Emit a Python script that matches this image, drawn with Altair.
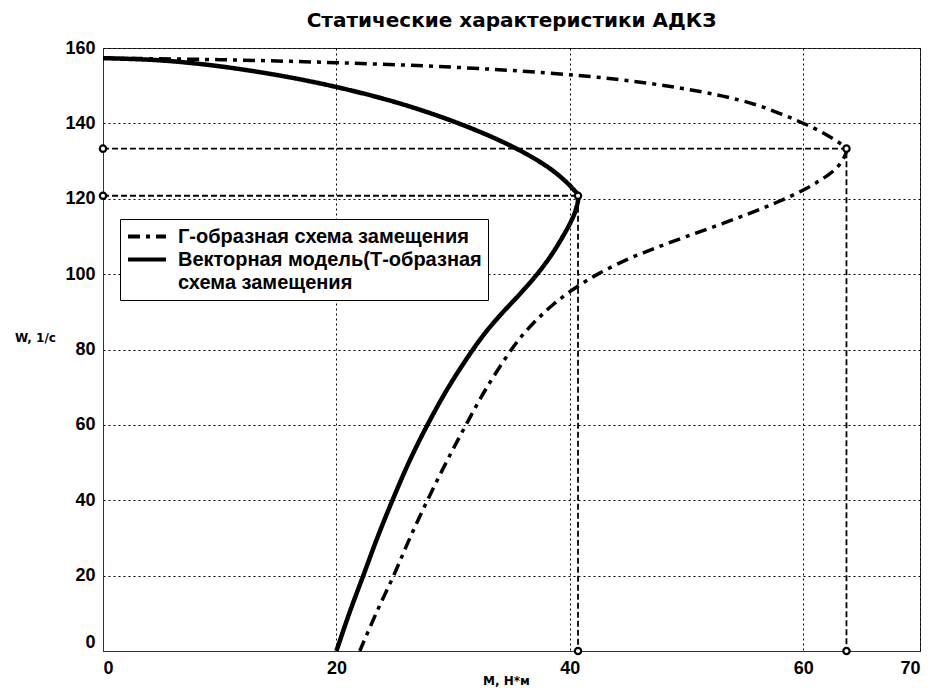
import altair as alt
import pandas as pd

FONT = "Liberation Sans"
WIDE = "DejaVu Sans"
TITLE = "Статические характеристики АДКЗ"
SERIES = ["Г-образная схема замещения", "Векторная модель(Т-образная", "схема замещения"]

x_ticks = [0, 20, 40, 60, 70]
y_ticks = [0, 20, 40, 60, 80, 100, 120, 140, 160]

# Г-образная схема замещения (dash-dot curve), from no-load down to standstill
g_m = [0, 10, 20, 30, 38, 44, 49, 53, 56, 58, 59.5, 61, 62.3, 63.2, 63.7,
       63.5, 62.8, 61.5, 59.8, 57.7, 55.3, 52.7, 50.0, 47.4, 45.0, 42.4, 40.3, 38.6, 37.2, 36.0, 35.0,
       32.9, 31.1, 29.4, 27.8, 26.3, 24.9, 23.4, 22.0]
g_w = [157.3, 156.9, 156.1, 154.9, 153.4, 151.7, 149.6, 147.3, 144.9, 142.6, 140.7, 138.6, 136.4, 134.6, 133.3,
       131, 128, 125, 122, 119, 116, 113, 110, 107, 104, 100, 96, 92, 88, 84, 80,
       70, 60, 50, 40, 30, 20, 10, 0]

# Векторная модель (solid curve)
v_m = [0, 4.5, 8.8, 13, 17.2, 21.3, 25.2, 28.7, 31.7, 34.3, 36.5, 38.3, 39.5, 40.3, 40.7,
       40.5, 40.1, 39.4, 38.4, 37.2, 35.8, 34.3, 32.9, 31.7, 29.6, 27.8, 26.2, 24.8, 23.5, 22.3, 21.1, 20]
v_w = [157.3, 156.8, 155.6, 153.8, 151.5, 148.7, 145.5, 142, 138.5, 135, 131.5, 128, 125, 122.5, 120.8,
       117, 114, 110, 105, 100, 95, 90, 85, 80, 70, 60, 50, 40, 30, 20, 10, 0]

# critical points (max torque) guide lines
ref_g_m = [0, 63.7, 63.7]
ref_g_w = [133.3, 133.3, 0]
ref_v_m = [0, 40.7, 40.7]
ref_v_w = [120.8, 120.8, 0]

g_df = pd.DataFrame({"M": g_m, "W": g_w, "series": SERIES[0], "idx": range(len(g_m))})
v_df = pd.DataFrame({"M": v_m, "W": v_w, "series": SERIES[1], "idx": range(len(v_m))})
ref_df = pd.DataFrame({
    "M": ref_g_m + ref_v_m,
    "W": ref_g_w + ref_v_w,
    "grp": ["g"] * 3 + ["v"] * 3,
    "idx": list(range(3)) + list(range(3)),
})

x_enc = alt.X("M:Q", scale=alt.Scale(domain=[0, 70], nice=False, zero=False),
              axis=alt.Axis(values=x_ticks, title="М, Н*м", labelFlush=True, labelPadding=8,
                            titleX=403, titleY=29, titleBaseline="middle", titleAlign="center",
                            titleFont=WIDE, titleFontSize=12, titleFontWeight="bold"))
y_enc = alt.Y("W:Q", scale=alt.Scale(domain=[0, 160], nice=False),
              axis=alt.Axis(values=y_ticks, title="W, 1/c", labelPadding=8,
                            labelBaseline={"condition": {"test": "datum.value == 0", "value": "bottom"},
                                           "value": "middle"},
                            titleAngle=0, titleX=-68, titleY=289, titleAlign="center",
                            titleBaseline="middle", titleFont=WIDE, titleFontSize=12,
                            titleFontWeight="bold"))

legend = alt.Legend(title=None, orient="none", legendX=17, legendY=171, fillColor="white",
                    strokeColor="black", padding=6, symbolType="stroke", symbolSize=1444,
                    symbolStrokeWidth=4, symbolStrokeColor="black", labelFont=FONT,
                    labelFontSize=20, labelFontWeight="bold", labelColor="black", labelLimit=600,
                    labelOffset=10, clipHeight=23, rowPadding=0)
dash = alt.StrokeDash("series:N", scale=alt.Scale(domain=SERIES, range=[[12, 6, 4, 6], [1, 0], [0, 1000]]),
                      legend=legend)

g_line = alt.Chart(g_df).mark_line(color="black", strokeWidth=3.5, interpolate="catmull-rom",
                                   strokeCap="butt").encode(x=x_enc, y=y_enc, order="idx:Q", strokeDash=dash)
v_line = alt.Chart(v_df).mark_line(color="black", strokeWidth=4.5, interpolate="catmull-rom",
                                   strokeCap="butt").encode(x=x_enc, y=y_enc, order="idx:Q", strokeDash=dash)
ref_lines = alt.Chart(ref_df).mark_line(color="black", strokeWidth=1.8, strokeDash=[6, 3]).encode(
    x=x_enc, y=y_enc, detail="grp:N", order="idx:Q")
ref_pts = alt.Chart(ref_df).mark_point(shape="circle", filled=True, fill="white", stroke="black",
                                       strokeWidth=2.2, size=40, opacity=1).encode(x=x_enc, y=y_enc)

chart = alt.layer(ref_lines, g_line, v_line, ref_pts).properties(
    width=817, height=603,
    autosize=alt.AutoSizeParams(type="none"),
    padding={"left": 95, "top": 40, "right": 5, "bottom": 37},
    title=alt.Title(text=TITLE, font=WIDE, fontSize=20, fontWeight="bold", color="black",
                    anchor="middle", offset=8),
).configure(font=FONT).configure_axis(
    grid=True, gridColor="black", gridDash=[2, 3], gridWidth=1, gridOpacity=1,
    domainColor="#333", domainWidth=1, ticks=False,
    labelFont=FONT, labelFontSize=18, labelFontWeight="bold", labelColor="black",
    titleColor="black",
).configure_view(stroke="#333", strokeWidth=1)

chart.save("out.html", embed_options={"renderer": "svg", "actions": False})
